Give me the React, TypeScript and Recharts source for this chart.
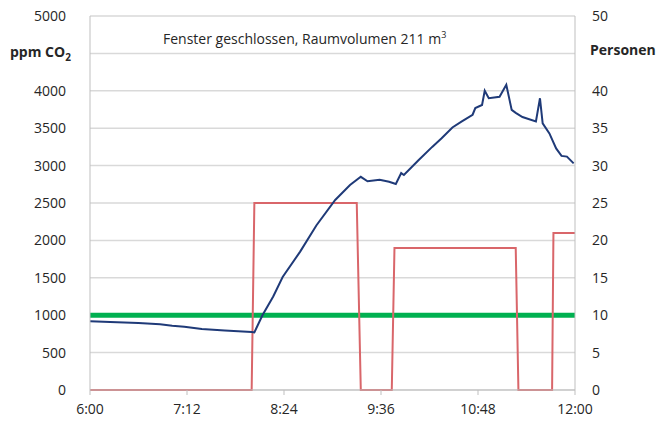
import React from 'react';
import { ComposedChart, Line, XAxis, YAxis, CartesianGrid } from 'recharts';

// minutes after 6:00
const timeTicks = [0, 72, 144, 216, 288, 360];
const timeLabels = ['6:00', '7:12', '8:24', '9:36', '10:48', '12:00'];
const ppmTicks = [0, 500, 1000, 1500, 2000, 2500, 3000, 3500, 4000, 4500, 5000];
const personTicks = [0, 5, 10, 15, 20, 25, 30, 35, 40, 45, 50];
// the axis titles sit where these labels would be
const hiddenPpm = 4500;
const hiddenPersons = 45;

const co2Minutes = [
  0, 15, 36, 52, 61, 70, 83, 100, 120, 122, 128, 136, 143, 156, 168, 182, 193, 201, 206, 215,
  222, 227, 231, 233, 244, 254, 261, 269, 276, 284, 286, 291, 293, 296, 304, 309, 313, 316, 321,
  331, 334, 336, 341, 346, 350, 354, 359,
];
const co2Ppm = [
  920, 910, 895, 880, 860, 845, 815, 795, 775, 770, 1000, 1250, 1510, 1850, 2200, 2540, 2740, 2850,
  2790, 2810, 2785, 2755, 2900, 2875, 3075, 3250, 3365, 3510, 3590, 3680, 3770, 3810, 4000, 3900,
  3920, 4080, 3745, 3705, 3650, 3590, 3900, 3565, 3430, 3230, 3130, 3120, 3030,
];

const personMinutes = [0, 120, 122, 198, 201, 224, 226, 316, 318, 343, 344, 360];
const personCount = [0, 0, 25, 25, 0, 0, 19, 19, 0, 0, 21, 21];

const limitMinutes = [0, 360];
const limitPpm = [1000, 1000];

const co2Data = co2Minutes.map((t, i) => ({ t, v: co2Ppm[i] }));
const personData = personMinutes.map((t, i) => ({ t, v: personCount[i] }));
const limitData = limitMinutes.map((t, i) => ({ t, v: limitPpm[i] }));

const font = '"Open Sans", "Liberation Sans", sans-serif';
const tickStyle = { fill: '#262626', fontSize: 14, fontFamily: font };

export default function App() {
  return (
    <div style={{ position: 'absolute', left: 0, top: 0, width: 663, height: 432, background: '#fff' }}>
      <ComposedChart width={663} height={432} margin={{ top: 16, right: 0, bottom: 0, left: 0 }}>
        <CartesianGrid vertical={false} yAxisId="left" stroke="#d9d9d9" strokeWidth={1.5} />
        <XAxis
          dataKey="t"
          type="number"
          domain={[0, 360]}
          ticks={timeTicks}
          tickFormatter={(v: number) => timeLabels[timeTicks.indexOf(v)]}
          height={42}
          stroke="#bfbfbf"
          tickSize={5}
          tickMargin={9}
          tick={tickStyle}
          allowDuplicatedCategory={false}
        />
        <YAxis
          yAxisId="left"
          domain={[0, 5000]}
          ticks={ppmTicks}
          tickFormatter={(v: number) => (v === hiddenPpm ? '' : String(v))}
          width={90}
          stroke="#bfbfbf"
          tickLine={false}
          tickSize={0}
          tickMargin={24}
          tick={tickStyle}
        />
        <YAxis
          yAxisId="right"
          orientation="right"
          domain={[0, 50]}
          ticks={personTicks}
          tickFormatter={(v: number) => (v === hiddenPersons ? '' : String(v))}
          width={88}
          stroke="#bfbfbf"
          tickLine={false}
          tickSize={0}
          tickMargin={17}
          tick={{ ...tickStyle, textAnchor: 'start' }}
        />
        <Line
          yAxisId="left"
          data={limitData}
          dataKey="v"
          stroke="#00b050"
          strokeWidth={5}
          dot={false}
          isAnimationActive={false}
        />
        <Line
          yAxisId="right"
          data={personData}
          dataKey="v"
          stroke="#d9666a"
          strokeWidth={2}
          dot={false}
          isAnimationActive={false}
        />
        <Line
          yAxisId="left"
          data={co2Data}
          dataKey="v"
          stroke="#1f3a78"
          strokeWidth={2}
          dot={false}
          isAnimationActive={false}
        />
      </ComposedChart>
      <div
        style={{
          position: 'absolute', left: 10, top: 42, fontFamily: font, fontSize: 14,
          fontWeight: 'bold', color: '#262626', whiteSpace: 'nowrap',
        }}
      >
        ppm CO<sub style={{ fontSize: 10 }}>2</sub>
      </div>
      <div
        style={{
          position: 'absolute', left: 590, top: 40, fontFamily: font, fontSize: 14,
          fontWeight: 'bold', color: '#262626', whiteSpace: 'nowrap',
        }}
      >
        Personen
      </div>
      <div
        style={{
          position: 'absolute', left: 163, top: 28, fontFamily: font, fontSize: 14,
          color: '#262626', whiteSpace: 'nowrap',
        }}
      >
        Fenster geschlossen, Raumvolumen 211 m<sup style={{ fontSize: 9 }}>3</sup>
      </div>
    </div>
  );
}
